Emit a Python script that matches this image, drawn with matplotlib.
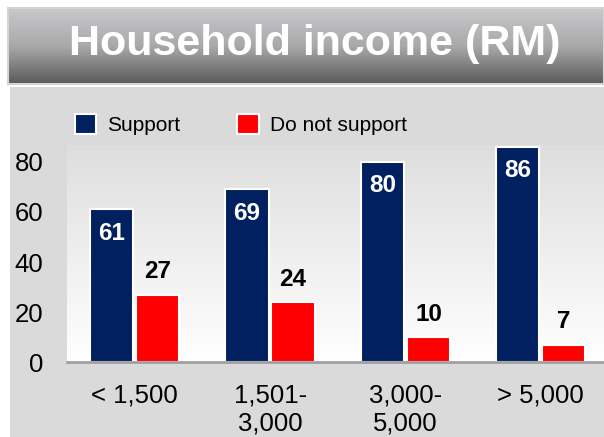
import numpy as np
import matplotlib
matplotlib.use("Agg")
import matplotlib.pyplot as plt
from matplotlib.colors import LinearSegmentedColormap

plt.rcParams['font.family'] = ['Liberation Sans', 'DejaVu Sans']

# Data
categories = ["< 1,500", "1,501-\n3,000", "3,000-\n5,000", "> 5,000"]
support = [61, 69, 80, 86]
not_support = [27, 24, 10, 7]
yticks = [0, 20, 40, 60, 80]

navy = "#002060"
red = "#ff0000"

fig = plt.figure(figsize=(6.04, 4.37), dpi=100)
W, H = 604, 437

# grey panel behind the chart
pax = fig.add_axes([10 / W, 0, 1 - 10 / W, (437 - 87) / H], zorder=-1)
pax.set_facecolor("#dadada")
pax.set_xticks([])
pax.set_yticks([])
for s in pax.spines.values():
    s.set_visible(False)

# title banner with gradient
bax = fig.add_axes([8 / W, 1 - 84 / H, 1 - 8 / W, 76 / H])
grad = np.linspace(0, 1, 256).reshape(-1, 1)
bax.imshow(grad, aspect="auto", cmap=LinearSegmentedColormap.from_list(
    "ban", ["#c8c9cb", "#a9a9aa", "#5a5a5a"]), extent=[0, 1, 0, 1])
bax.set_xlim(0, 1)
bax.set_ylim(0, 1)
bax.set_xticks([])
bax.set_yticks([])
for s in bax.spines.values():
    s.set_color("#d4d4d4")
    s.set_linewidth(1.5)
bax.text(0.515, 0.52, "Household income (RM)", color="white", fontsize=31,
         fontweight="bold", ha="center", va="center", transform=bax.transAxes)

# main axes
ax = fig.add_axes([67 / W, 1 - 362 / H, 541.5 / W, 217 / H])
x = np.arange(len(categories))
ax.set_xlim(-0.5, len(categories) - 0.5)
ax.set_ylim(0, 86.8)

bg = np.linspace(0, 1, 256).reshape(-1, 1)
ax.imshow(bg, aspect="auto", cmap=LinearSegmentedColormap.from_list(
    "bg", ["#dedede", "#ffffff"]), extent=[-0.5, len(categories) - 0.5, 0, 86.8],
    zorder=0)

off = 0.17
ax.bar(x - off, support, 0.32, color=navy, edgecolor="white", linewidth=1.5,
       label="Support", zorder=2)
ax.bar(x + off, not_support, 0.32, color=red, edgecolor="white", linewidth=1.5,
       label="Do not support", zorder=2)

for xi, v in zip(x, support):
    ax.annotate(str(v), (xi - off, v), xytext=(0, -9), textcoords="offset points",
                ha="center", va="top", color="white", fontsize=17.5, fontweight="bold")
for xi, v in zip(x, not_support):
    ax.annotate(str(v), (xi + off, v), xytext=(0, 8), textcoords="offset points",
                ha="center", va="bottom", color="black", fontsize=17.5, fontweight="bold")

ax.set_xticks(x)
ax.set_xticklabels(categories, fontsize=18.5, linespacing=1.2)
ax.set_yticks(yticks)
ax.set_yticklabels([str(t) for t in yticks], fontsize=18.5)
ax.tick_params(axis="both", length=0)
ax.tick_params(axis="y", pad=17)
ax.tick_params(axis="x", pad=15.5)
for s in ["top", "right", "left"]:
    ax.spines[s].set_visible(False)
ax.spines["bottom"].set_color("#a0a0a0")
ax.spines["bottom"].set_linewidth(2)
ax.spines["bottom"].set_zorder(3)

ax.legend(loc="lower left", bbox_to_anchor=(0.014, 1.045), ncol=2,
          frameon=False, fontsize=15, handlelength=1.05, handleheight=1.05,
          handletextpad=0.5, columnspacing=2.75, borderpad=0, borderaxespad=0)

fig.savefig("out.png", dpi=100)
